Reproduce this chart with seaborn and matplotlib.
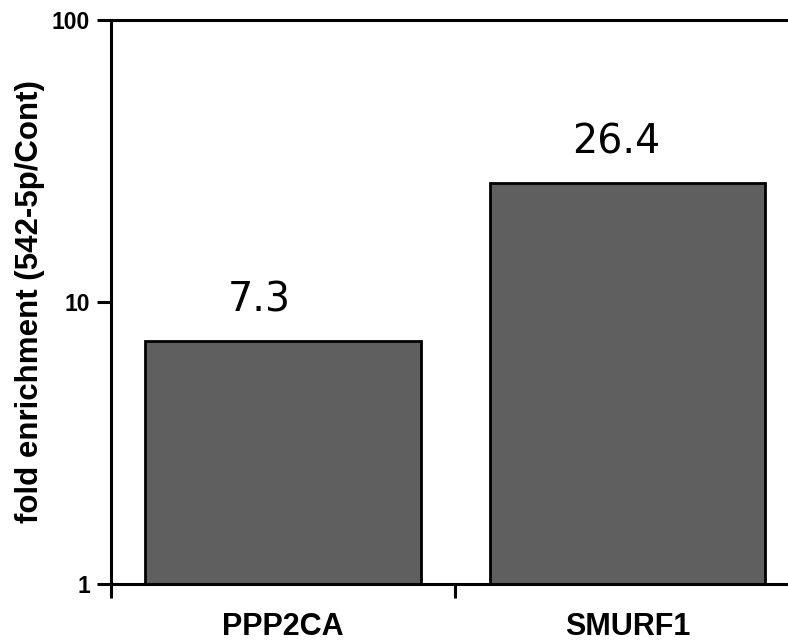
import matplotlib
matplotlib.use("Agg")
import matplotlib.pyplot as plt
from matplotlib.ticker import NullLocator
import seaborn as sns
import pandas as pd

# Fold enrichment of target transcripts (542-5p pull-down vs control)
genes = ["PPP2CA", "SMURF1"]
fold_enrichment = [7.3, 26.4]
value_labels = ["7.3", "26.4"]
y_ticks = [1, 10, 100]
y_tick_labels = ["1", "10", "100"]

df = pd.DataFrame({"gene": genes, "fold": fold_enrichment})

sns.set_style("ticks", {"text.color": "black", "axes.labelcolor": "black",
                        "xtick.color": "black", "ytick.color": "black",
                        "axes.edgecolor": "black"})
plt.rcParams["font.family"] = ["Liberation Sans", "DejaVu Sans"]

fig = plt.figure(figsize=(7.88, 6.44), dpi=100)
ax = fig.add_axes([0.1409, 0.0932, 0.8737, 0.8758])

sns.barplot(data=df, x="gene", y="fold", order=genes, color="#5f5f5f",
            saturation=1, width=0.8, edgecolor="black", linewidth=2.0,
            errorbar=None, ax=ax)

ax.set_yscale("log")
ax.set_ylim(1, 100)
ax.set_xlim(-0.5, len(genes) - 0.5)

ax.set_xlabel("")
ax.set_ylabel("fold enrichment (542-5p/Cont)", fontsize=22.5, fontweight="bold",
              labelpad=5, color="black")

for side in ["left", "bottom", "top", "right"]:
    ax.spines[side].set_linewidth(2.2)
    ax.spines[side].set_color("black")

# value labels above each bar
for patch, text in zip(ax.patches, value_labels):
    ax.annotate(text, xy=(patch.get_x(), patch.get_height()),
                xytext=(59, 21), textcoords="offset points",
                ha="left", va="baseline", fontsize=28.5,
                fontfamily="DejaVu Sans", color="black")

# y axis: decades only
ax.set_yticks(y_ticks, labels=y_tick_labels, fontsize=16.5, fontweight="bold")
ax.yaxis.set_minor_locator(NullLocator())
ax.tick_params(axis="y", which="major", length=10, width=2.2, pad=5,
               direction="out", color="black", labelcolor="black")

# x axis: ticks at category boundaries, names centred under bars
ax.set_xticks([i - 0.5 for i in range(len(genes) + 1)],
              labels=[""] * (len(genes) + 1))
ax.set_xticks(range(len(genes)), labels=genes, minor=True,
              fontsize=22, fontweight="bold")
ax.tick_params(axis="x", which="major", length=10, width=2.2, direction="out",
               color="black")
ax.tick_params(axis="x", which="minor", length=0, pad=20, labelcolor="black")

fig.savefig("out.png", dpi=100)
